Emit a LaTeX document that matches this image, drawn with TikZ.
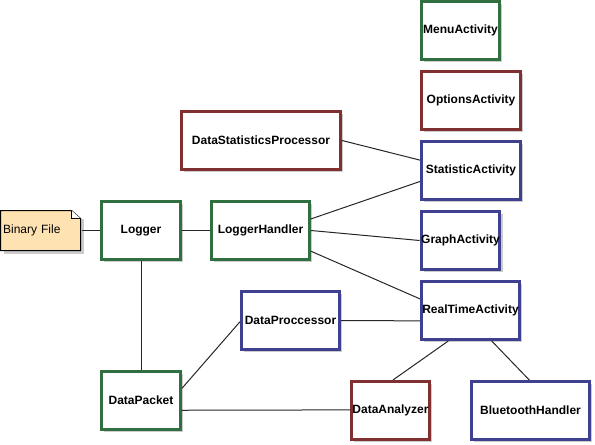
\documentclass[tikz,border=0pt]{standalone}
\usepackage{fontspec}
\setmainfont{Liberation Sans}
\usetikzlibrary{calc,shadows}
\definecolor{cgreen}{RGB}{48,112,64}
\definecolor{cred}{RGB}{128,48,48}
\definecolor{cblue}{RGB}{64,64,144}
\definecolor{notefill}{RGB}{255,226,178}
\definecolor{shadowgray}{RGB}{204,204,204}
\tikzset{
  box/.style={fill=white, line width=2.25pt, inner sep=0pt, minimum height=43.5pt,
    font=\fontsize{9}{10}\selectfont\bfseries,
    drop shadow={shadow xshift=2.2pt, shadow yshift=-2.2pt, fill=shadowgray, opacity=1}},
  gbox/.style={box, draw=cgreen},
  rbox/.style={box, draw=cred},
  bbox/.style={box, draw=cblue},
  conn/.style={line width=0.75pt, draw=black!85},
}
\begin{document}
\begin{tikzpicture}[x=0.75pt, y=-0.75pt]
\useasboundingbox (0,0) rectangle (595,445);
% note
\coordinate (nnw) at (0.5,210.5);
\coordinate (nne) at (80.5,210.5);
\coordinate (nse) at (80.5,250.5);
\coordinate (nsw) at (0.5,250.5);
\fill[shadowgray] ($(nnw)+(3,8)$) -- ($(nne)+(3,8)$) -- ($(nse)+(3,3)$) -- ($(nsw)+(3,3)$) -- cycle;
\filldraw[fill=notefill, draw=black, line width=0.75pt] (nnw) -- ($(nne)+(-9,0)$) -- ($(nne)+(0,8)$) -- (nse) -- (nsw) -- cycle;
\filldraw[fill=white, draw=black, line width=0.75pt] ($(nne)+(-9,0)$) -- ($(nne)+(-9,8)$) -- ($(nne)+(0,8)$);
\node[anchor=west, inner sep=0pt, minimum height=30pt, minimum width=60pt, align=left, text width=58pt, font=\fontsize{9}{10}\selectfont] (note) at (1.5,230.5) {Binary File};
% boxes
\node[gbox, minimum width=59.25pt] (logger) at (141,230.5) {Logger};
\node[gbox, minimum width=73.5pt] (lh) at (260.5,230.5) {LoggerHandler};
\node[rbox, minimum width=119.25pt] (dsp) at (261,140.5) {DataStatisticsProcessor};
\node[gbox, minimum width=58.5pt] (menu) at (460.5,30.5) {MenuActivity};
\node[rbox, minimum width=74.25pt] (opt) at (471,100.5) {OptionsActivity};
\node[bbox, minimum width=74.25pt] (stat) at (471,170.5) {StatisticActivity};
\node[bbox, minimum width=58.5pt] (graph) at (460.5,240.5) {GraphActivity};
\node[bbox, minimum width=73.5pt] (rt) at (470.5,310.5) {RealTimeActivity};
\node[bbox, minimum width=73.5pt] (dproc) at (290.5,320.5) {DataProccessor};
\node[gbox, minimum width=59.25pt] (dpack) at (141,400.5) {DataPacket};
\node[rbox, minimum width=58.5pt] (da) at (390.5,410.5) {DataAnalyzer};
\node[bbox, minimum width=88.5pt] (bt) at (530.5,410.5) {BluetoothHandler};
% connectors
\draw[conn] (note.east) -- (logger.west);
\draw[conn] (logger.east) -- (lh.west);
\draw[conn] (logger.south) -- (dpack.north);
\draw[conn] (dsp.east) -- ($(stat.north west)!0.33!(stat.south west)$);
\draw[conn] ($(lh.north east)!0.31!(lh.south east)$) -- ($(stat.north west)!0.68!(stat.south west)$);
\draw[conn] (lh.east) -- ($(graph.north west)!0.5!(graph.south west)$);
\draw[conn] ($(lh.north east)!0.84!(lh.south east)$) -- ($(rt.north west)!0.31!(rt.south west)$);
\draw[conn] (dproc.east) -- ($(rt.north west)!0.67!(rt.south west)$);
\draw[conn] ($(dpack.north east)!0.3!(dpack.south east)$) -- ($(dproc.north west)!0.52!(dproc.south west)$);
\draw[conn] ($(dpack.north east)!0.66!(dpack.south east)$) -- ($(da.north west)!0.49!(da.south west)$);
\draw[conn] ($(rt.south west)!0.28!(rt.south east)$) -- ($(da.north west)!0.53!(da.north east)$);
\draw[conn] ($(rt.south west)!0.71!(rt.south east)$) -- ($(bt.north west)!0.49!(bt.north east)$);
\end{tikzpicture}
\end{document}
